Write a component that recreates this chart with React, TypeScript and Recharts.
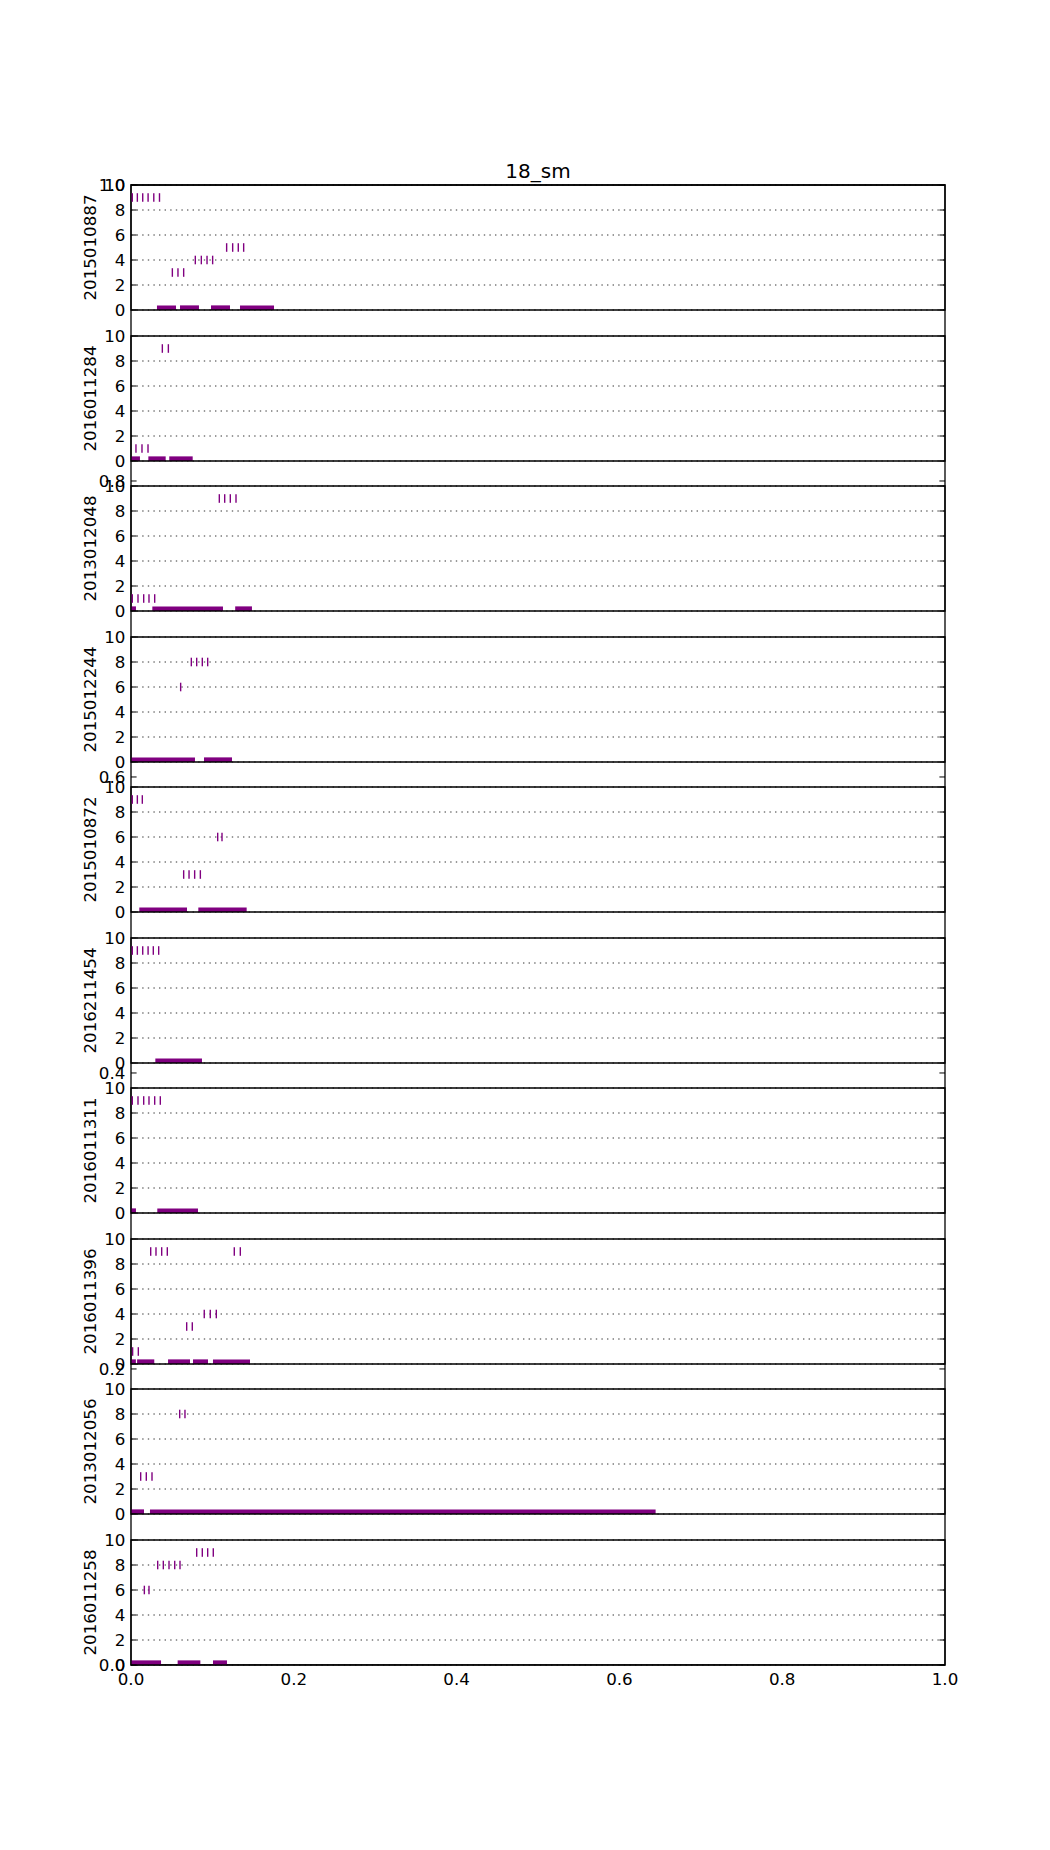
import React from 'react';
import { ScatterChart, Scatter, XAxis, YAxis, CartesianGrid, ReferenceArea } from 'recharts';

const PURPLE = '#800080';
const FONT = '"DejaVu Sans", sans-serif';
const FONT_SIZE = 16.7;

// layout of the stacked panels (px)
const PLOT_LEFT = 131;
const PLOT_RIGHT = 945;
const FIRST_TOP = 185;
const PANEL_H = 125;
const PITCH = 150.55;
const PAD = 10;
const TICK = 5.6;

const TITLE = '18_sm';

const panelIds = [
    '2015010887',
    '2016011284',
    '2013012048',
    '2015012244',
    '2015010872',
    '2016211454',
    '2016011311',
    '2016011396',
    '2013012056',
    '2016011258',
];

// [level, times at that level]
type Marks = [number, number[]][];
type Bars = [number, number][];

const marks1: Marks = [
    [9, [0.0016, 0.0078, 0.0144, 0.021, 0.028, 0.035]],
    [3, [0.0508, 0.0577, 0.0647]],
    [4, [0.079, 0.0864, 0.0934, 0.1003]],
    [5, [0.1175, 0.1249, 0.1318, 0.1384]],
];
const bars1: Bars = [[0.0319, 0.0553], [0.0602, 0.0835], [0.0983, 0.1216], [0.1339, 0.1757]];

const marks2: Marks = [
    [9, [0.0385, 0.0459]],
    [1, [0.0061, 0.0135, 0.0209]],
];
const bars2: Bars = [[0, 0.011], [0.0213, 0.0426], [0.047, 0.0758]];

const marks3: Marks = [
    [9, [0.1085, 0.1151, 0.122, 0.129]],
    [1, [0.0016, 0.0086, 0.0156, 0.0221, 0.0291]],
];
const bars3: Bars = [[0, 0.0061], [0.0262, 0.113], [0.128, 0.1486]];

const marks4: Marks = [
    [8, [0.0741, 0.0807, 0.0876, 0.0942]],
    [6, [0.061]],
];
const bars4: Bars = [[0, 0.0786], [0.0897, 0.1241]];

const marks5: Marks = [
    [9, [0.0016, 0.0078, 0.0139]],
    [6, [0.1065, 0.1118]],
    [3, [0.0647, 0.0713, 0.0782, 0.0852]],
];
const bars5: Bars = [[0.0102, 0.0688], [0.0827, 0.1421]];

const marks6: Marks = [
    [9, [0.0016, 0.0078, 0.0144, 0.021, 0.0274, 0.034]],
];
const bars6: Bars = [[0.0299, 0.0872]];

const marks7: Marks = [
    [9, [0.0016, 0.0086, 0.0156, 0.0221, 0.0291, 0.036]],
];
const bars7: Bars = [[0, 0.0061], [0.0323, 0.0823]];

const marks8: Marks = [
    [9, [0.0242, 0.0307, 0.0377, 0.0446, 0.1269, 0.1343]],
    [4, [0.09, 0.0974, 0.1048]],
    [3, [0.0684, 0.0753]],
    [1, [0.002, 0.009]],
];
const bars8: Bars = [[0, 0.006], [0.0075, 0.0286], [0.0455, 0.0725], [0.0762, 0.0946], [0.1007, 0.1462]];

const marks9: Marks = [
    [8, [0.0598, 0.0663]],
    [3, [0.0119, 0.0188, 0.0258]],
];
const bars9: Bars = [[0, 0.016], [0.0233, 0.6445]];

const marks10: Marks = [
    [9, [0.0807, 0.0876, 0.0942, 0.1011]],
    [8, [0.0328, 0.0397, 0.0467, 0.0537, 0.0602]],
    [6, [0.0164, 0.0221]],
];
const bars10: Bars = [[0, 0.0369], [0.0573, 0.0852], [0.1007, 0.1179]];

const allMarks = [marks1, marks2, marks3, marks4, marks5, marks6, marks7, marks8, marks9, marks10];
const allBars = [bars1, bars2, bars3, bars4, bars5, bars6, bars7, bars8, bars9, bars10];

const BAR_HEIGHT = 0.37;
const panelYTicks = [0, 2, 4, 6, 8, 10];
const bgYTicks = [0, 0.2, 0.4, 0.6, 0.8, 1.0];
const xTicks = [0, 0.2, 0.4, 0.6, 0.8, 1.0];

// tick label on the left, inward tick marks on both spines
const makeYTick = (fmt: (v: number) => string) => (props: any) => {
    const { x, y, payload } = props;
    return (
        <g>
            <line x1={PLOT_LEFT} x2={PLOT_LEFT + TICK} y1={y} y2={y} stroke="#000" strokeWidth={1} />
            <line x1={PLOT_RIGHT - TICK} x2={PLOT_RIGHT} y1={y} y2={y} stroke="#000" strokeWidth={1} />
            <text x={x} y={y} dy="0.36em" textAnchor="end" fontSize={FONT_SIZE} fill="#000" fontFamily={FONT}>
                {fmt(payload.value)}
            </text>
        </g>
    );
};

const PanelTick = makeYTick(v => String(v));
const BgTick = makeYTick(v => v.toFixed(1));

const TickMark = (props: any) => {
    const { cx, cy } = props;
    return <line x1={cx} x2={cx} y1={cy - 4.3} y2={cy + 4.3} stroke={PURPLE} strokeWidth={1.4} />;
};

const NoMark = () => <g />;

const Panel: React.FC<{ index: number }> = ({ index }) => {
    const isLast = index === panelIds.length - 1;
    const top = FIRST_TOP + index * PITCH;
    const xAxisH = isLast ? 30 : 0;
    const height = PANEL_H + 2 * PAD + xAxisH;
    const points = allMarks[index].flatMap(([level, times]) => times.map(t => ({ x: t, y: level })));

    return (
        <div style={{ position: 'absolute', left: 0, top: top - PAD, width: 1050, height }}>
            <ScatterChart width={1050} height={height} margin={{ top: PAD, right: 1050 - PLOT_RIGHT, bottom: PAD, left: PLOT_LEFT - 60 }}>
                <CartesianGrid vertical={false} stroke="#000" strokeWidth={0.8} strokeDasharray="1.4 4.2" />
                {isLast ? (
                    <XAxis
                        type="number"
                        dataKey="x"
                        domain={[0, 1]}
                        ticks={xTicks}
                        tickFormatter={(v: number) => v.toFixed(1)}
                        axisLine={false}
                        tickLine={false}
                        tickSize={0}
                        tickMargin={8}
                        height={xAxisH}
                        interval={0}
                        tick={{ fontSize: FONT_SIZE, fill: '#000', fontFamily: FONT }}
                    />
                ) : (
                    <XAxis type="number" dataKey="x" domain={[0, 1]} hide />
                )}
                <YAxis
                    type="number"
                    dataKey="y"
                    domain={[0, 10]}
                    ticks={panelYTicks}
                    interval={0}
                    width={60}
                    axisLine={false}
                    tickLine={false}
                    tickSize={0}
                    tickMargin={5.6}
                    tick={PanelTick}
                    label={{
                        value: panelIds[index],
                        angle: -90,
                        position: 'insideLeft',
                        offset: 19,
                        style: { textAnchor: 'middle', fontSize: FONT_SIZE, fill: '#000', fontFamily: FONT },
                    }}
                />
                {allBars[index].map(([x1, x2], i) => (
                    <ReferenceArea
                        key={`bar-${i}`}
                        x1={x1}
                        x2={x2}
                        y1={0}
                        y2={BAR_HEIGHT}
                        fill={PURPLE}
                        fillOpacity={1}
                        stroke="none"
                        ifOverflow="visible"
                    />
                ))}
                <Scatter data={points} shape={TickMark} isAnimationActive={false} />
                <ReferenceArea x1={0} x2={1} y1={0} y2={10} fill="none" stroke="#000" strokeWidth={1.3} ifOverflow="visible" />
            </ScatterChart>
        </div>
    );
};

// the figure-wide axes behind the panels (only its spines and y ticks show in the gaps)
const BackgroundAxes: React.FC = () => {
    const bgBottom = FIRST_TOP + 9 * PITCH + PANEL_H;
    const anchors = bgYTicks.map(v => ({ x: 0, y: v }));
    return (
        <div style={{ position: 'absolute', left: 0, top: 0, width: 1050, height: 1850 }}>
            <ScatterChart width={1050} height={1850} margin={{ top: FIRST_TOP, right: 1050 - PLOT_RIGHT, bottom: 1850 - bgBottom, left: PLOT_LEFT - 60 }}>
                <XAxis type="number" dataKey="x" domain={[0, 1]} hide />
                <YAxis
                    type="number"
                    dataKey="y"
                    domain={[0, 1]}
                    ticks={bgYTicks}
                    interval={0}
                    width={60}
                    axisLine={false}
                    tickLine={false}
                    tickSize={0}
                    tickMargin={5.6}
                    tick={BgTick}
                />
                <Scatter data={anchors} shape={NoMark} isAnimationActive={false} />
                <ReferenceArea x1={0} x2={1} y1={0} y2={1} fill="none" stroke="#000" strokeWidth={1.3} ifOverflow="visible" />
            </ScatterChart>
        </div>
    );
};

const App: React.FC = () => {
    return (
        <div style={{ position: 'absolute', left: 0, top: 0, width: 1050, height: 1850, background: '#fff', fontFamily: FONT }}>
            <BackgroundAxes />
            <div
                style={{
                    position: 'absolute',
                    left: PLOT_LEFT,
                    width: PLOT_RIGHT - PLOT_LEFT,
                    top: 161,
                    lineHeight: '20px',
                    fontSize: 20,
                    textAlign: 'center',
                    color: '#000',
                }}
            >
                {TITLE}
            </div>
            {panelIds.map((_, i) => (
                <Panel key={i} index={i} />
            ))}
        </div>
    );
};

export default App;
